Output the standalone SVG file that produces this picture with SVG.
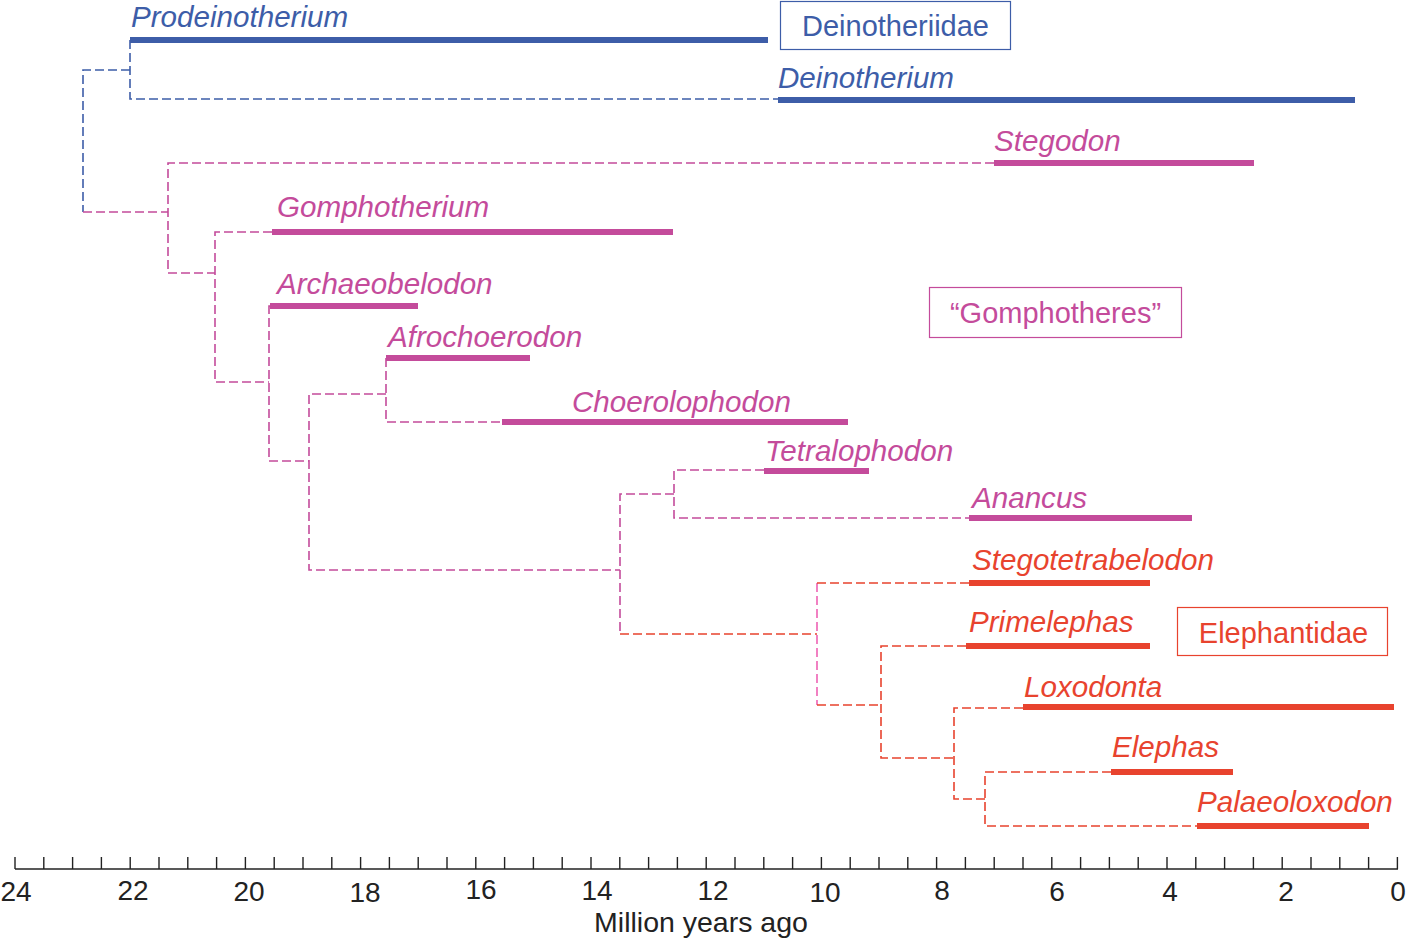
<svg xmlns="http://www.w3.org/2000/svg" width="1415" height="938" viewBox="0 0 1415 938">
<style>
text{font-family:"Liberation Sans",Arial,sans-serif}
.sp{font-size:29.6px;font-style:italic}
.grp{font-size:29px}
.ax{font-size:28px;fill:#222;text-anchor:middle}
.bar{stroke-width:6;fill:none}
.dash{stroke-width:1.6;fill:none;stroke-dasharray:9 4}
.b{stroke:#3d5da8}
.m{stroke:#c44b9b}
.r{stroke:#e8432e}
.p{stroke:#ee62b4}
.tb{fill:#3d5da8}
.tm{fill:#c44b9b}
.tr{fill:#e8432e}
</style>
<rect width="1415" height="938" fill="#fff"/>
<g id="connectors">
<path class="dash b" d="M130 40V99H778"/>
<path class="dash b" d="M130 70H83V212"/>
<path class="dash m" d="M83 212H168"/>
<path class="dash m" d="M994 163H168V273H215"/>
<path class="dash m" d="M272 232H215V382H269"/>
<path class="dash m" d="M270 306H269V461H309"/>
<path class="dash m" d="M386 394H309V570H620"/>
<path class="dash m" d="M386 358V422H502"/>
<path class="dash m" d="M674 494H620V634"/>
<path class="dash m" d="M764 470H674V518H969"/>
<path class="dash r" d="M620 634H817"/>
<path class="dash p" d="M817 583V705"/>
<path class="dash r" d="M817 583H969"/>
<path class="dash r" d="M817 705H881"/>
<path class="dash r" d="M966 646H881V758H954"/>
<path class="dash r" d="M1023 708H954V799H985"/>
<path class="dash r" d="M1111 772H985V826H1197"/>
</g>
<g id="Prodeinotherium"><line class="bar b" x1="130" y1="40" x2="768" y2="40"/><text class="sp tb" x="131" y="27">Prodeinotherium</text></g>
<g id="Deinotherium"><line class="bar b" x1="778" y1="100" x2="1355" y2="100"/><text class="sp tb" x="778" y="88">Deinotherium</text></g>
<g id="Deinotheriidae"><rect x="780.5" y="1.5" width="230" height="48" fill="none" stroke="#3d5da8" stroke-width="1.2"/><text class="grp tb" x="895.5" y="36" text-anchor="middle">Deinotheriidae</text></g>
<g id="Stegodon"><line class="bar m" x1="994" y1="163" x2="1254" y2="163"/><text class="sp tm" x="994" y="151">Stegodon</text></g>
<g id="Gomphotherium"><line class="bar m" x1="272" y1="232" x2="673" y2="232"/><text class="sp tm" x="277" y="217">Gomphotherium</text></g>
<g id="Archaeobelodon"><line class="bar m" x1="270" y1="306" x2="418" y2="306"/><text class="sp tm" x="277" y="294">Archaeobelodon</text></g>
<g id="Gomphotheres"><rect x="929.5" y="287.5" width="252" height="50" fill="none" stroke="#c44b9b" stroke-width="1.2"/><text class="grp tm" x="1055.5" y="323" text-anchor="middle">“Gomphotheres”</text></g>
<g id="Afrochoerodon"><line class="bar m" x1="386" y1="358" x2="530" y2="358"/><text class="sp tm" x="388" y="347">Afrochoerodon</text></g>
<g id="Choerolophodon"><line class="bar m" x1="502" y1="422" x2="848" y2="422"/><text class="sp tm" x="572" y="412">Choerolophodon</text></g>
<g id="Tetralophodon"><line class="bar m" x1="764" y1="471" x2="869" y2="471"/><text class="sp tm" x="765" y="461">Tetralophodon</text></g>
<g id="Anancus"><line class="bar m" x1="969" y1="518" x2="1192" y2="518"/><text class="sp tm" x="972" y="508">Anancus</text></g>
<g id="Stegotetrabelodon"><line class="bar r" x1="969" y1="583" x2="1150" y2="583"/><text class="sp tr" x="972" y="570">Stegotetrabelodon</text></g>
<g id="Primelephas"><line class="bar r" x1="966" y1="646" x2="1150" y2="646"/><text class="sp tr" x="969" y="632">Primelephas</text></g>
<g id="Elephantidae"><rect x="1177.5" y="607.5" width="210" height="48" fill="none" stroke="#e8432e" stroke-width="1.2"/><text class="grp tr" x="1283.5" y="643" text-anchor="middle">Elephantidae</text></g>
<g id="Loxodonta"><line class="bar r" x1="1023" y1="707" x2="1394" y2="707"/><text class="sp tr" x="1024" y="697">Loxodonta</text></g>
<g id="Elephas"><line class="bar r" x1="1111" y1="772" x2="1233" y2="772"/><text class="sp tr" x="1112" y="757">Elephas</text></g>
<g id="Palaeoloxodon"><line class="bar r" x1="1197" y1="826" x2="1369" y2="826"/><text class="sp tr" x="1197" y="812">Palaeoloxodon</text></g>
<g id="axis">
<path d="M15 869H1398" stroke="#222" stroke-width="1.6"/>
<path stroke="#222" stroke-width="1.4" d="M15 857V869M43.8 857V869M72.6 857V869M101.4 857V869M130.2 857V869M159 857V869M187.8 857V869M216.6 857V869M245.4 857V869M274.2 857V869M303 857V869M331.8 857V869M360.6 857V869M389.4 857V869M418.2 857V869M447 857V869M475.8 857V869M504.6 857V869M533.4 857V869M562.2 857V869M591 857V869M619.8 857V869M648.6 857V869M677.4 857V869M706.2 857V869M735 857V869M763.8 857V869M792.6 857V869M821.4 857V869M850.2 857V869M879 857V869M907.8 857V869M936.6 857V869M965.4 857V869M994.2 857V869M1023 857V869M1051.8 857V869M1080.6 857V869M1109.4 857V869M1138.2 857V869M1167 857V869M1195.8 857V869M1224.6 857V869M1253.4 857V869M1282.2 857V869M1311 857V869M1339.8 857V869M1368.6 857V869M1397.4 857V869"/>
<text class="ax" x="16" y="901">24</text>
<text class="ax" x="133" y="900">22</text>
<text class="ax" x="249" y="901">20</text>
<text class="ax" x="365" y="902">18</text>
<text class="ax" x="481" y="899">16</text>
<text class="ax" x="597" y="900">14</text>
<text class="ax" x="713" y="900">12</text>
<text class="ax" x="825" y="902">10</text>
<text class="ax" x="942" y="900">8</text>
<text class="ax" x="1057" y="901">6</text>
<text class="ax" x="1170" y="901">4</text>
<text class="ax" x="1286" y="901">2</text>
<text class="ax" x="1398" y="901">0</text>
<text x="701" y="932" text-anchor="middle" style="font-size:28.5px;fill:#222">Million years ago</text>
</g>
</svg>
